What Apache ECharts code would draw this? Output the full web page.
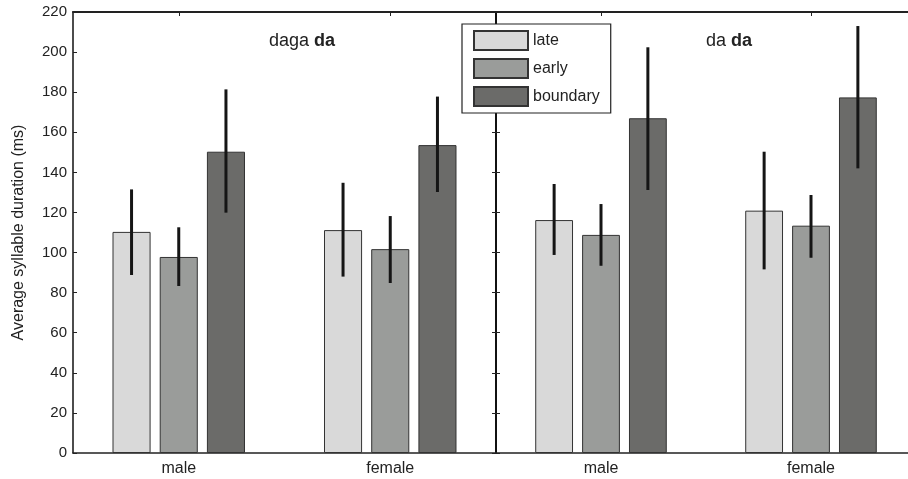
<!DOCTYPE html>
<html><head><meta charset="utf-8">
<script src="https://cdn.jsdelivr.net/npm/echarts@6/dist/echarts.min.js"></script>
<style>html,body{margin:0;padding:0;background:#fff}#c{width:908px;height:479px}</style>
</head><body><div id="c"></div>
<script>
const categories = ['male', 'female'];
const seriesNames = ['late', 'early', 'boundary'];
const yTicks = [0, 20, 40, 60, 80, 100, 120, 140, 160, 180, 200, 220];
// Left panel: "daga da"
const leftLate = [110.3, 111.2];
const leftEarly = [97.8, 101.7];
const leftBoundary = [150.3, 153.6];
const leftLateErr = [[88.8, 131.5], [88.0, 134.8]];
const leftEarlyErr = [[83.3, 112.6], [84.8, 118.2]];
const leftBoundaryErr = [[119.9, 181.4], [130.2, 177.8]];
// Right panel: "da da"
const rightLate = [116.2, 120.9];
const rightEarly = [108.8, 113.4];
const rightBoundary = [167.0, 177.4];
const rightLateErr = [[98.8, 134.2], [91.6, 150.3]];
const rightEarlyErr = [[93.4, 124.2], [97.4, 128.7]];
const rightBoundaryErr = [[131.2, 202.4], [142.0, 213.0]];

const colors = ['#d9d9d9', '#9a9c9a', '#6b6b69'];
const FONT = 'Liberation Sans, Arial, sans-serif';
const BAR_W = 0.18, BAR_GAP = 0.24;

const chart = echarts.init(document.getElementById('c'));

function errData(errs) {
  const out = [];
  errs.forEach((e, si) => e.forEach((v, ci) => out.push([ci, v[0], v[1], si])));
  return out;
}
function errSeries(gi, errs) {
  return {
    type: 'custom', xAxisIndex: gi * 2, yAxisIndex: gi * 2, z: 10,
    data: errData(errs), encode: { x: 0, y: [1, 2] }, silent: true,
    renderItem: function (params, api) {
      const band = api.size([1, 0])[0];
      const off = (api.value(3) - 1) * BAR_W * (1 + BAR_GAP) * band;
      const p1 = api.coord([api.value(0), api.value(1)]);
      const p2 = api.coord([api.value(0), api.value(2)]);
      return { type: 'line', shape: { x1: p1[0] + off, y1: p1[1], x2: p2[0] + off, y2: p2[1] },
        style: { stroke: '#151515', lineWidth: 3 } };
    }
  };
}
function barSeries(gi, vals) {
  return vals.map((v, i) => ({
    name: seriesNames[i], type: 'bar', xAxisIndex: gi * 2, yAxisIndex: gi * 2,
    data: v, barWidth: (BAR_W * 100) + '%', barGap: (BAR_GAP * 100) + '%',
    itemStyle: { color: colors[i], borderColor: '#333', borderWidth: 1 }
  }));
}
const grids = [
  { left: 73, top: 12, width: 423, height: 441, outerBoundsMode: 'none', containLabel: false },
  { left: 496, top: 12, width: 420, height: 441, outerBoundsMode: 'none', containLabel: false }
];
const xAxes = [], yAxes = [];
[0, 1].forEach(gi => {
  xAxes.push({ type: 'category', gridIndex: gi, data: categories, position: 'bottom',
    axisLine: { onZero: false, lineStyle: { color: '#222', width: 1.5 } }, axisTick: { show: false },
    axisLabel: { color: '#222', fontSize: 16, fontFamily: FONT, margin: 8 } });
  xAxes.push({ type: 'category', gridIndex: gi, data: categories, position: 'top',
    axisLine: { show: true, onZero: false, lineStyle: { color: '#222', width: 2 } },
    axisTick: { show: true, inside: true, alignWithLabel: true, length: 4, lineStyle: { color: '#222' } },
    axisLabel: { show: false } });
  yAxes.push({ type: 'value', gridIndex: gi, min: 0, max: 220, interval: 20, position: 'left',
    name: gi === 0 ? 'Average syllable duration (ms)' : '', nameLocation: 'middle', nameGap: 46,
    nameTextStyle: { color: '#222', fontSize: 16, fontFamily: FONT },
    splitLine: { show: false },
    axisLine: { show: true, onZero: false, lineStyle: { color: '#111', width: gi === 0 ? 1.5 : 2 } },
    axisTick: { show: true, inside: true, length: 4, lineStyle: { color: '#222' } },
    axisLabel: { show: gi === 0, color: '#222', fontSize: 15, fontFamily: FONT, margin: 6 } });
  yAxes.push({ type: 'value', gridIndex: gi, min: 0, max: 220, interval: 20,
    position: gi === 0 ? 'right' : 'left',
    splitLine: { show: false }, axisLine: { show: false },
    axisTick: { show: gi === 1, inside: false, length: 4, lineStyle: { color: '#222' } },
    axisLabel: { show: false } });
});

const series = [].concat(
  barSeries(0, [leftLate, leftEarly, leftBoundary]),
  barSeries(1, [rightLate, rightEarly, rightBoundary]),
  [errSeries(0, [leftLateErr, leftEarlyErr, leftBoundaryErr]),
   errSeries(1, [rightLateErr, rightEarlyErr, rightBoundaryErr])]
);

const titleRich = {
  a: { fontSize: 18, fontWeight: 'normal', color: '#222', fontFamily: FONT },
  b: { fontSize: 18, fontWeight: 'bold', color: '#222', fontFamily: FONT }
};
chart.setOption({
  animation: false,
  textStyle: { fontFamily: FONT },
  title: [
    { text: '{a|daga }{b|da}', left: 297, top: 27, textAlign: 'center',
      textStyle: { fontWeight: 'normal', rich: titleRich } },
    { text: '{a|da }{b|da}', left: 724, top: 27, textAlign: 'center',
      textStyle: { fontWeight: 'normal', rich: titleRich } }
  ],
  legend: {
    orient: 'vertical', left: 462, top: 24, data: seriesNames,
    itemWidth: 54, itemHeight: 19, itemGap: 7, padding: [6, 11, 6, 11],
    borderColor: '#222', borderWidth: 1.2, backgroundColor: '#fff',
    textStyle: { color: '#222', fontSize: 16, fontFamily: FONT, padding: [0, 0, 0, 0] },
    icon: 'rect', z: 20
  },
  grid: grids, xAxis: xAxes, yAxis: yAxes, series: series
});
</script></body></html>
